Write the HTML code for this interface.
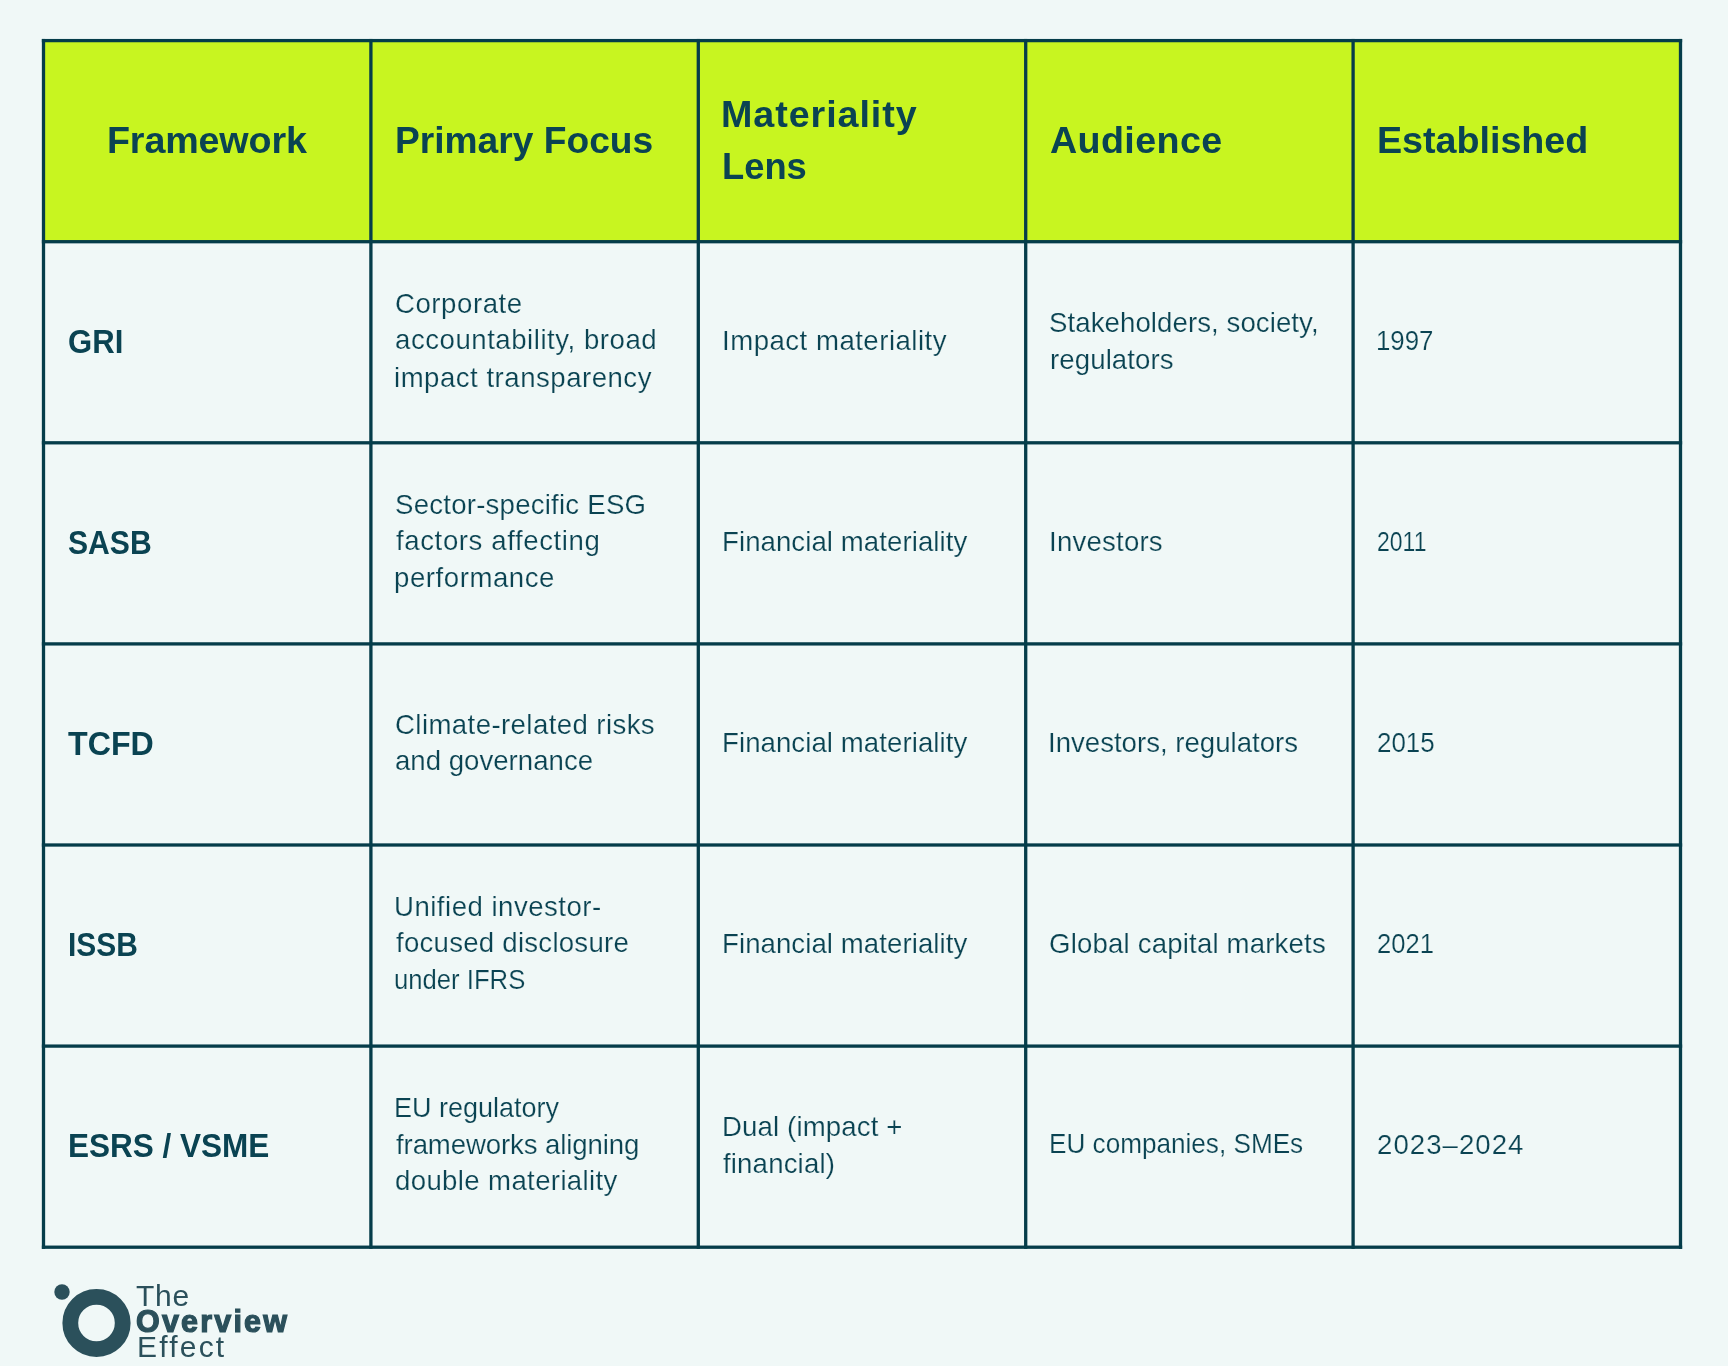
<!DOCTYPE html>
<html><head><meta charset="utf-8"><title>Sustainability reporting frameworks</title><style>
html,body{margin:0;padding:0;}
body{width:1728px;height:1366px;overflow:hidden;background:#F0F8F7;position:relative;font-family:"Liberation Sans",sans-serif;color:#0A4352;}
svg{position:absolute;left:0;top:0;}
.t{position:absolute;white-space:pre;will-change:transform;transform-origin:0 50%;}
.h{font-weight:700;font-size:37.7px;line-height:37.7px;}
.b1{font-weight:700;font-size:34.1px;line-height:34.1px;}
.b{font-weight:400;font-size:27.6px;line-height:27.6px;-webkit-text-stroke:0.2px #F0F8F7;}
.lr{font-weight:400;font-size:30px;line-height:30px;color:#2B505B;}
.lb{font-weight:700;font-size:30.5px;line-height:30.5px;color:#2B505B;-webkit-text-stroke:1.2px #2B505B;}
</style></head><body>
<svg width="1728" height="1366" viewBox="0 0 1728 1366">
<rect x="43.50" y="40.60" width="1637.00" height="201.10" fill="#C8F520"/>
<rect x="41.85" y="38.95" width="3.3" height="1209.90" fill="#053D4A"/>
<rect x="369.25" y="38.95" width="3.3" height="1209.90" fill="#053D4A"/>
<rect x="696.65" y="38.95" width="3.3" height="1209.90" fill="#053D4A"/>
<rect x="1024.05" y="38.95" width="3.3" height="1209.90" fill="#053D4A"/>
<rect x="1351.45" y="38.95" width="3.3" height="1209.90" fill="#053D4A"/>
<rect x="1678.85" y="38.95" width="3.3" height="1209.90" fill="#053D4A"/>
<rect x="41.85" y="38.95" width="1640.30" height="3.3" fill="#053D4A"/>
<rect x="41.85" y="240.05" width="1640.30" height="3.3" fill="#053D4A"/>
<rect x="41.85" y="441.15" width="1640.30" height="3.3" fill="#053D4A"/>
<rect x="41.85" y="642.25" width="1640.30" height="3.3" fill="#053D4A"/>
<rect x="41.85" y="843.35" width="1640.30" height="3.3" fill="#053D4A"/>
<rect x="41.85" y="1044.45" width="1640.30" height="3.3" fill="#053D4A"/>
<rect x="41.85" y="1245.55" width="1640.30" height="3.3" fill="#053D4A"/>
<circle cx="96.5" cy="1323" r="26.2" fill="none" stroke="#2B505B" stroke-width="15.8"/>
<circle cx="62" cy="1292" r="7.7" fill="#2B505B"/>
</svg>
<div class="t h" style="left:106.75px;top:122.12px;letter-spacing:-0.15px">Framework</div>
<div class="t h" style="left:394.53px;top:122.32px;will-change:auto;transform:translateZ(0) scaleX(0.9861)">Primary Focus</div>
<div class="t h" style="left:721.40px;top:96.12px;letter-spacing:0.93px">Materiality</div>
<div class="t h" style="left:722.09px;top:148.12px;will-change:auto;transform:translateZ(0) scaleX(0.9643)">Lens</div>
<div class="t h" style="left:1049.80px;top:122.12px;letter-spacing:0.37px">Audience</div>
<div class="t h" style="left:1376.90px;top:122.12px;letter-spacing:-0.02px">Established</div>
<div class="t b1" style="left:67.95px;top:324.25px;will-change:auto;transform:translateZ(0) scaleX(0.9123)">GRI</div>
<div class="t b1" style="left:68.37px;top:525.45px;will-change:auto;transform:translateZ(0) scaleX(0.8840)">SASB</div>
<div class="t b1" style="left:68.25px;top:726.25px;will-change:auto;transform:translateZ(0) scaleX(0.9447)">TCFD</div>
<div class="t b1" style="left:67.53px;top:927.45px;will-change:auto;transform:translateZ(0) scaleX(0.8778)">ISSB</div>
<div class="t b1" style="left:67.62px;top:1128.15px;will-change:auto;transform:translateZ(0) scaleX(0.9245)">ESRS / VSME</div>
<div class="t b" style="left:394.73px;top:289.75px;letter-spacing:0.55px">Corporate</div>
<div class="t b" style="left:394.98px;top:326.45px;letter-spacing:0.53px">accountability, broad</div>
<div class="t b" style="left:394.35px;top:363.55px;letter-spacing:0.50px">impact transparency</div>
<div class="t b" style="left:394.85px;top:490.65px;letter-spacing:0.23px">Sector-specific ESG</div>
<div class="t b" style="left:395.73px;top:527.05px;letter-spacing:0.60px">factors affecting</div>
<div class="t b" style="left:394.35px;top:563.55px;letter-spacing:0.55px">performance</div>
<div class="t b" style="left:394.73px;top:710.65px;letter-spacing:0.41px">Climate-related risks</div>
<div class="t b" style="left:394.98px;top:747.05px;letter-spacing:0.01px">and governance</div>
<div class="t b" style="left:393.98px;top:892.85px;letter-spacing:0.49px">Unified investor-</div>
<div class="t b" style="left:395.73px;top:929.35px;letter-spacing:0.25px">focused disclosure</div>
<div class="t b" style="left:394.47px;top:966.45px;will-change:auto;transform:translateZ(0) scaleX(0.9303)">under IFRS</div>
<div class="t b" style="left:394.30px;top:1093.85px;will-change:auto;transform:translateZ(0) scaleX(0.9785)">EU regulatory</div>
<div class="t b" style="left:396.12px;top:1130.85px;letter-spacing:-0.11px">frameworks aligning</div>
<div class="t b" style="left:395.38px;top:1167.35px;letter-spacing:0.36px">double materiality</div>
<div class="t b" style="left:721.50px;top:327.05px;letter-spacing:0.49px">Impact materiality</div>
<div class="t b" style="left:721.75px;top:528.25px;letter-spacing:0.07px">Financial materiality</div>
<div class="t b" style="left:721.75px;top:729.15px;letter-spacing:0.07px">Financial materiality</div>
<div class="t b" style="left:721.75px;top:930.05px;letter-spacing:0.07px">Financial materiality</div>
<div class="t b" style="left:721.75px;top:1112.85px;letter-spacing:0.14px">Dual (impact +</div>
<div class="t b" style="left:723.12px;top:1149.65px;letter-spacing:0.16px">financial)</div>
<div class="t b" style="left:1049.45px;top:309.05px;letter-spacing:0.08px">Stakeholders, society,</div>
<div class="t b" style="left:1049.55px;top:345.75px;letter-spacing:0.10px">regulators</div>
<div class="t b" style="left:1048.80px;top:527.65px;letter-spacing:0.21px">Investors</div>
<div class="t b" style="left:1048.20px;top:729.05px;letter-spacing:-0.00px">Investors, regulators</div>
<div class="t b" style="left:1049.33px;top:929.75px;letter-spacing:0.18px">Global capital markets</div>
<div class="t b" style="left:1049.17px;top:1130.35px;will-change:auto;transform:translateZ(0) scaleX(0.9470)">EU companies, SMEs</div>
<div class="t b" style="left:1375.93px;top:326.95px;will-change:auto;transform:translateZ(0) scaleX(0.9359)">1997</div>
<div class="t b" style="left:1377.35px;top:527.75px;will-change:auto;transform:translateZ(0) scaleX(0.8336)">2011</div>
<div class="t b" style="left:1377.21px;top:728.75px;will-change:auto;transform:translateZ(0) scaleX(0.9393)">2015</div>
<div class="t b" style="left:1377.23px;top:929.75px;will-change:auto;transform:translateZ(0) scaleX(0.9260)">2021</div>
<div class="t b" style="left:1377.12px;top:1130.75px;letter-spacing:1.04px">2023–2024</div>
<div class="t lr" style="left:136.07px;top:1280.50px;letter-spacing:0.78px">The</div>
<div class="t lb" style="left:136.07px;top:1306.15px;letter-spacing:2.19px">Overview</div>
<div class="t lr" style="left:136.93px;top:1331.70px;letter-spacing:2.21px">Effect</div>
</body></html>
